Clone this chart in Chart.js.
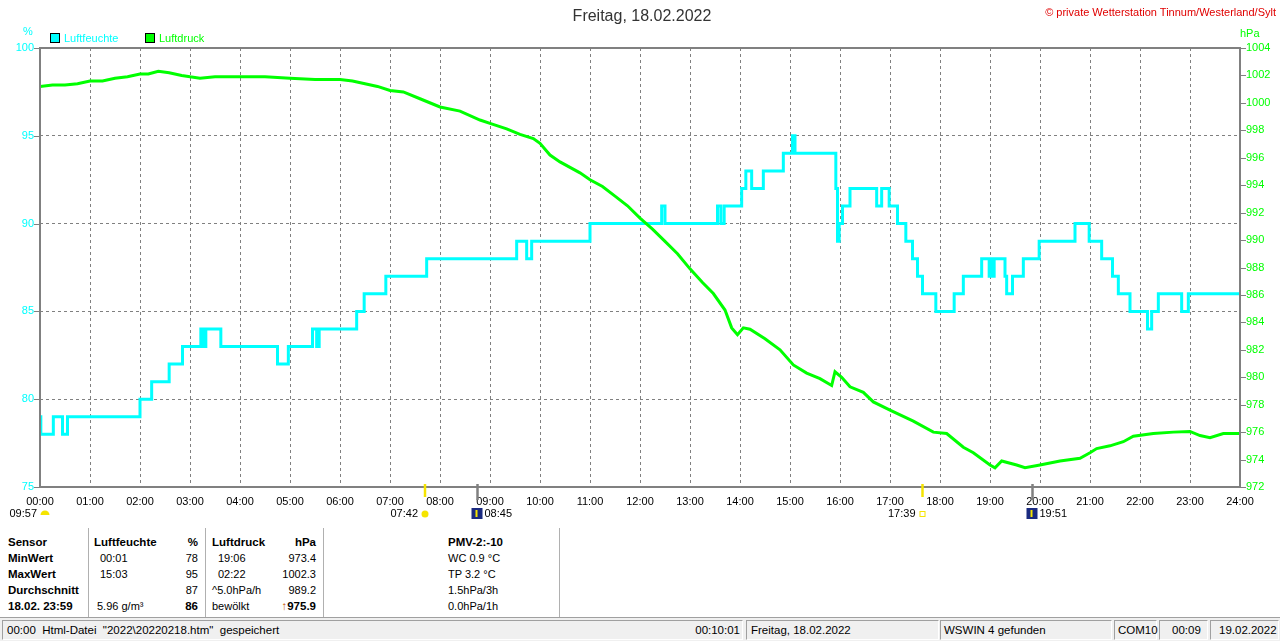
<!DOCTYPE html>
<html lang="de">
<head>
<meta charset="UTF-8" />
<meta name="viewport" content="width=device-width, initial-scale=1.0" />
<title>Freitag, 18.02.2022</title>
<style>
  body { margin: 0; width: 1280px; height: 641px; position: relative; overflow: hidden; background: #fff;
         font-family: "Liberation Sans", Arial, sans-serif; font-size: 11px; color: #000; }
  .a { position: absolute; white-space: pre; line-height: 12px; }
  .b { font-weight: bold; font-size: 11.5px; }
  .r { text-align: right; width: 80px; }
  .sep { position: absolute; top: 528px; width: 1px; height: 89px; background: #b0b0b0; border-right: 1px solid #fff; }
  .panel { position: absolute; top: 620px; height: 18px; border-top: 1px solid #a0a0a0; border-left: 1px solid #a0a0a0;
           border-bottom: 1px solid #fff; border-right: 1px solid #fff; }
  .panel span { position: absolute; top: 3px; white-space: pre; font-size: 11.5px; }
  .box { position: absolute; width: 8px; height: 8px; border: 1px solid #000; }
</style>
</head>
<body>
<canvas id="chart" width="1280" height="520" style="position:absolute;left:0;top:0"></canvas>

<div class="a" style="left:0;width:1284px;top:7px;text-align:center;font-size:16px;line-height:18px;color:#333">Freitag, 18.02.2022</div>
<div class="a" style="right:4px;top:6px;color:#e00000;font-size:11px">© private Wetterstation Tinnum/Westerland/Sylt</div>

<div class="a" style="left:23px;top:25px;color:#00ffff">%</div>
<div class="a" style="left:1240px;top:27px;color:#00ff00">hPa</div>
<div class="box" style="left:50px;top:33px;background:#00ffff"></div>
<div class="a" style="left:64px;top:32px;color:#00ffff">Luftfeuchte</div>
<div class="box" style="left:145px;top:33px;background:#00ff00"></div>
<div class="a" style="left:159px;top:32px;color:#00ff00">Luftdruck</div>

<!-- Tabelle -->
<div class="sep" style="left:88px"></div>
<div class="sep" style="left:205px"></div>
<div class="sep" style="left:323px"></div>
<div class="sep" style="left:559px"></div>

<div class="a b" style="left:8px;top:536px">Sensor</div>
<div class="a b" style="left:8px;top:552px">MinWert</div>
<div class="a b" style="left:8px;top:568px">MaxWert</div>
<div class="a b" style="left:8px;top:584px">Durchschnitt</div>
<div class="a b" style="left:8px;top:600px">18.02. 23:59</div>

<div class="a b" style="left:94px;top:536px">Luftfeuchte</div>
<div class="a b r" style="left:118px;top:536px">%</div>
<div class="a" style="left:100px;top:552px">00:01</div>
<div class="a r" style="left:118px;top:552px">78</div>
<div class="a" style="left:100px;top:568px">15:03</div>
<div class="a r" style="left:118px;top:568px">95</div>
<div class="a r" style="left:118px;top:584px">87</div>
<div class="a" style="left:97px;top:600px">5.96 g/m³</div>
<div class="a b r" style="left:118px;top:600px">86</div>

<div class="a b" style="left:212px;top:536px">Luftdruck</div>
<div class="a b r" style="left:236px;top:536px">hPa</div>
<div class="a" style="left:218px;top:552px">19:06</div>
<div class="a r" style="left:236px;top:552px">973.4</div>
<div class="a" style="left:218px;top:568px">02:22</div>
<div class="a r" style="left:236px;top:568px">1002.3</div>
<div class="a" style="left:212px;top:584px">^5.0hPa/h</div>
<div class="a r" style="left:236px;top:584px">989.2</div>
<div class="a" style="left:212px;top:600px">bewölkt</div>
<div class="a b r" style="left:236px;top:600px"><span style="color:#c05000">↑</span>975.9</div>

<div class="a b" style="left:448px;top:536px">PMV-2:-10</div>
<div class="a" style="left:448px;top:552px">WC 0.9 °C</div>
<div class="a" style="left:448px;top:568px">TP 3.2 °C</div>
<div class="a" style="left:448px;top:584px">1.5hPa/3h</div>
<div class="a" style="left:448px;top:600px">0.0hPa/1h</div>

<!-- Statusleiste -->
<div style="position:absolute;left:0;top:617px;width:1280px;height:24px;background:#f0f0f0;border-top:1px solid #a0a0a0"></div>
<div class="panel" style="left:2px;width:739px"><span style="left:4px">00:00  Html-Datei  "2022\20220218.htm"  gespeichert</span><span style="right:2px">00:10:01</span></div>
<div class="panel" style="left:746px;width:191px"><span style="left:4px">Freitag, 18.02.2022</span></div>
<div class="panel" style="left:940px;width:170px"><span style="left:3px">WSWIN 4 gefunden</span></div>
<div class="panel" style="left:1114px;width:41px"><span style="left:3px">COM10</span></div>
<div class="panel" style="left:1159px;width:47px"><span style="left:12px">00:09</span></div>
<div class="panel" style="left:1210px;width:67px"><span style="left:8px">19.02.2022</span></div>

<script src="https://cdn.jsdelivr.net/npm/chart.js"></script>
<script>
  // Achsen
  const xTickLabels = ["00:00", "01:00", "02:00", "03:00", "04:00", "05:00", "06:00", "07:00", "08:00",
    "09:00", "10:00", "11:00", "12:00", "13:00", "14:00", "15:00", "16:00", "17:00", "18:00",
    "19:00", "20:00", "21:00", "22:00", "23:00", "24:00"];
  const humTicks = [75, 80, 85, 90, 95, 100];
  const pressTicks = [972, 974, 976, 978, 980, 982, 984, 986, 988, 990, 992, 994, 996, 998, 1000, 1002, 1004];

  // Luftfeuchte (Stufen: Wert gilt ab Uhrzeit)
  const humTimes = ["00:00", "00:01", "00:16", "00:27", "00:33", "02:00", "02:14", "02:35", "02:51",
    "03:13", "03:16", "03:19", "03:37", "04:45", "04:58", "05:27", "05:32", "05:35", "06:20",
    "06:29", "06:55", "07:44", "09:32", "09:44", "09:50", "11:00", "12:26", "12:30", "13:33",
    "13:37", "13:41", "14:02", "14:07", "14:14", "14:28", "14:52", "15:03", "15:06", "15:55",
    "15:57", "15:59", "16:03", "16:12", "16:44", "16:50", "16:59", "17:09", "17:19", "17:27",
    "17:33", "17:39", "17:55", "18:17", "18:28", "18:50", "18:59", "19:01", "19:03", "19:05",
    "19:18", "19:20", "19:27", "19:40", "19:59", "20:42", "20:59", "21:14", "21:27", "21:34",
    "21:48", "22:09", "22:14", "22:22", "22:50", "22:58", "24:00"];
  const humValues = [79, 78, 79, 78, 79, 80, 81, 82, 83,
    84, 83, 84, 83, 82, 83, 84, 83, 84, 85,
    86, 87, 88, 89, 88, 89, 90, 91, 90, 91,
    90, 91, 92, 93, 92, 93, 94, 95, 94, 92,
    89, 90, 91, 92, 91, 92, 91, 90, 89, 88,
    87, 86, 85, 86, 87, 88, 87, 88, 87, 88,
    87, 86, 87, 88, 89, 90, 89, 88, 87, 86,
    85, 84, 85, 86, 85, 86, 86];

  // Luftdruck
  const pressTimes = ["00:00", "00:15", "00:30", "00:45", "01:00", "01:15", "01:30", "01:45", "02:00",
    "02:10", "02:22", "02:35", "02:50", "03:00", "03:12", "03:30", "03:45", "04:00", "04:30",
    "05:00", "05:30", "06:00", "06:15", "06:30", "06:45", "07:00", "07:16", "07:36", "08:00",
    "08:24", "08:48", "09:00", "09:20", "09:36", "09:52", "10:00", "10:12", "10:24", "10:48",
    "11:00", "11:15", "11:30", "11:45", "12:00", "12:15", "12:30", "12:45",
    "13:00", "13:15", "13:28", "13:42", "13:50", "13:57", "14:04", "14:12", "14:30", "14:48",
    "15:04", "15:20", "15:36", "15:50", "15:54", "16:02", "16:12", "16:28", "16:40", "17:00",
    "17:28", "17:52", "18:08", "18:28", "18:40", "19:00", "19:06", "19:14", "19:32", "19:42",
    "20:00", "20:24", "20:48", "21:00", "21:08", "21:24", "21:40", "21:52", "22:16", "22:40",
    "23:00", "23:12", "23:24", "23:40", "24:00"];
  const pressValues = [1001.2, 1001.3, 1001.3, 1001.4, 1001.6, 1001.6, 1001.8, 1001.9, 1002.1,
    1002.1, 1002.3, 1002.2, 1002.0, 1001.9, 1001.8, 1001.9, 1001.9, 1001.9, 1001.9,
    1001.8, 1001.7, 1001.7, 1001.6, 1001.4, 1001.2, 1000.9, 1000.8, 1000.3, 999.7,
    999.4, 998.75, 998.5, 998.1, 997.7, 997.4, 997.05, 996.2, 995.7, 994.9,
    994.4, 993.9, 993.2, 992.5, 991.6, 990.8, 989.9, 989.0,
    987.9, 986.9, 986.1, 984.9, 983.6, 983.1, 983.6, 983.5, 982.8, 982.0,
    980.9, 980.3, 979.9, 979.4, 980.4, 980.0, 979.3, 978.9, 978.2, 977.6,
    976.8, 976.0, 975.9, 974.9, 974.5, 973.6, 973.4, 973.9, 973.6, 973.4,
    973.6, 973.9, 974.1, 974.5, 974.8, 975.0, 975.3, 975.7, 975.9, 976.0,
    976.05, 975.75, 975.6, 975.9, 975.9];

  // Sonne / Mond
  const eventTimes = ["07:42", "08:45", "17:39", "19:51"];
  const eventKinds = ["sunrise", "moonset", "sunset", "moonrise"];
  const dayLength = "09:57";

  const toHours = (t) => { const [h, m] = t.split(":").map(Number); return h + m / 60; };

  const FONT = '"Liberation Sans", Arial, sans-serif';

  const frameAndMarks = {
    id: "frameAndMarks",
    afterDraw(chart) {
      const { ctx, chartArea: { left, top, right, bottom }, scales: { x, yHum, yPress } } = chart;
      ctx.save();
      ctx.strokeStyle = "#808080";
      ctx.lineWidth = 2;
      ctx.strokeRect(left, top, right - left, bottom - top);

      ctx.lineWidth = 1;
      ctx.beginPath();
      humTicks.forEach((v) => {
        const y = Math.round(yHum.getPixelForValue(v)) + 0.5;
        ctx.moveTo(left - 6, y); ctx.lineTo(left, y);
      });
      pressTicks.forEach((v) => {
        const y = Math.round(yPress.getPixelForValue(v)) + 0.5;
        ctx.moveTo(right, y); ctx.lineTo(right + 6, y);
      });
      ctx.stroke();

      ctx.font = `11px ${FONT}`;
      ctx.textBaseline = "middle";
      ctx.fillStyle = "#000";
      const ly = bottom + 27;

      // Tageslänge links
      ctx.textAlign = "right";
      ctx.fillText(dayLength, left - 3, ly);
      ctx.fillStyle = "#f5e400";
      ctx.beginPath();
      ctx.arc(left + 5, ly + 1, 4.5, Math.PI, 2 * Math.PI);
      ctx.fill();

      eventTimes.forEach((t, i) => {
        const px = x.getPixelForValue(toHours(t));
        const kind = eventKinds[i];
        const sun = kind.startsWith("sun");
        ctx.strokeStyle = sun ? "#f5e400" : "#808080";
        ctx.lineWidth = 2.5;
        ctx.beginPath();
        ctx.moveTo(px, bottom - 3);
        ctx.lineTo(px, bottom + (sun ? 10 : 13));
        ctx.stroke();

        ctx.fillStyle = "#000";
        if (sun) {
          ctx.textAlign = "right";
          ctx.fillText(t, px - 7, ly);
          if (kind === "sunrise") {
            ctx.fillStyle = "#f5e400";
            ctx.beginPath();
            ctx.arc(px, ly, 3.5, 0, 2 * Math.PI);
            ctx.fill();
          } else {
            ctx.strokeStyle = "#f5e400";
            ctx.lineWidth = 1;
            ctx.strokeRect(px - 2.5, ly - 2.5, 5, 5);
          }
        } else {
          ctx.textAlign = "left";
          ctx.fillText(t, px + 7, ly);
          ctx.fillStyle = "#1a2a80";
          ctx.fillRect(px - 6, ly - 6, 11, 11);
          ctx.fillStyle = "#f5e400";
          ctx.fillRect(px - 2, ly - 4, 2, 7);
        }
      });
      ctx.restore();
    },
  };

  const ctx = document.getElementById("chart").getContext("2d");

  new Chart(ctx, {
    type: "line",
    data: {
      datasets: [
        {
          label: "Luftdruck",
          data: pressTimes.map((t, i) => ({ x: toHours(t), y: pressValues[i] })),
          yAxisID: "yPress",
          borderColor: "#00ff00",
          borderWidth: 3,
          pointRadius: 0,
          tension: 0,
        },
        {
          label: "Luftfeuchte",
          data: humTimes.map((t, i) => ({ x: toHours(t), y: humValues[i] })),
          yAxisID: "yHum",
          borderColor: "#00ffff",
          borderWidth: 3,
          pointRadius: 0,
          stepped: "before",
        },
      ],
    },
    options: {
      responsive: false,
      animation: false,
      devicePixelRatio: 1,
      layout: { padding: { top: 48, left: 0, right: 0, bottom: 0 } },
      plugins: { legend: { display: false }, tooltip: { enabled: false } },
      scales: {
        x: {
          type: "linear",
          min: 0,
          max: 24,
          afterBuildTicks: (s) => { s.ticks = xTickLabels.map((l, i) => ({ value: i })); },
          afterFit: (s) => { s.height = 33; },
          ticks: {
            autoSkip: false,
            maxRotation: 0,
            padding: 8,
            color: "#000",
            font: { family: FONT, size: 11 },
            callback: (v) => xTickLabels[Math.round(v)],
          },
          grid: { color: "#808080", lineWidth: 1, drawTicks: false },
          border: { display: false, dash: [3, 3] },
        },
        yHum: {
          position: "left",
          min: 75,
          max: 100,
          afterBuildTicks: (s) => { s.ticks = humTicks.map((v) => ({ value: v })); },
          afterFit: (s) => { s.width = 40; },
          ticks: { padding: 6, color: "#00ffff", font: { family: FONT, size: 11 }, callback: (v) => String(v) },
          grid: { color: "#808080", lineWidth: 1, drawTicks: false },
          border: { display: false, dash: [3, 3] },
        },
        yPress: {
          position: "right",
          min: 972,
          max: 1004,
          afterBuildTicks: (s) => { s.ticks = pressTicks.map((v) => ({ value: v })); },
          afterFit: (s) => { s.width = 40; },
          ticks: { padding: 6, color: "#00ff00", font: { family: FONT, size: 11 }, callback: (v) => String(v) },
          grid: { display: false, drawTicks: false },
          border: { display: false },
        },
      },
    },
    plugins: [frameAndMarks],
  });
</script>
</body>
</html>
